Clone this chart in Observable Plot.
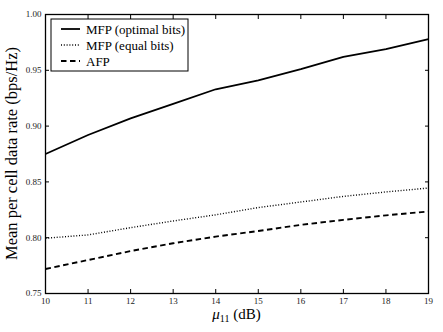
<!DOCTYPE html>
<html>
<head>
<meta charset="utf-8">
<script src="https://cdn.jsdelivr.net/npm/d3@7"></script>
<script src="https://cdn.jsdelivr.net/npm/@observablehq/plot@0.6"></script>
<style>
  html, body { margin: 0; padding: 0; background: #fff; }
  #chart { position: relative; width: 443px; height: 332px; }
</style>
</head>
<body>
<div id="chart"></div>
<script>
const mu = [10, 11, 12, 13, 14, 15, 16, 17, 18, 19];
const mfpOptimal = [0.875, 0.892, 0.907, 0.920, 0.933, 0.941, 0.951, 0.962, 0.969, 0.978];
const mfpEqual   = [0.7995, 0.8025, 0.809, 0.815, 0.8205, 0.827, 0.832, 0.837, 0.841, 0.8445];
const afp        = [0.772, 0.780, 0.788, 0.795, 0.801, 0.806, 0.8115, 0.816, 0.820, 0.8235];
const seriesNames = ["MFP (optimal bits)", "MFP (equal bits)", "AFP"];
const xTicks = [10, 11, 12, 13, 14, 15, 16, 17, 18, 19];
const yTicks = [0.75, 0.80, 0.85, 0.90, 0.95, 1.00];

const styles = [
  {strokeWidth: 1.8, dash: null},
  {strokeWidth: 1.4, dash: "1,1.8"},
  {strokeWidth: 1.9, dash: "5.5,3.5"}
];
const seriesValues = [mfpOptimal, mfpEqual, afp];
const rows = seriesNames.flatMap((name, i) =>
  mu.map((x, j) => ({series: name, x, y: seriesValues[i][j]})));

const font = "'Liberation Serif', 'DejaVu Serif', serif";

const plot = Plot.plot({
  width: 443,
  height: 332,
  marginLeft: 45,
  marginRight: 15,
  marginTop: 14,
  marginBottom: 39,
  style: {fontFamily: font, fontSize: "9px", color: "#222", background: "#fff"},
  x: {domain: [10, 19]},
  y: {domain: [0.75, 1.0]},
  marks: [
    ...seriesNames.map((name, i) => Plot.line(rows.filter(d => d.series === name), {
      x: "x", y: "y", stroke: "#000",
      strokeWidth: styles[i].strokeWidth,
      strokeDasharray: styles[i].dash,
      strokeLinecap: "butt"
    })),
    Plot.axisX(xTicks, {anchor: "bottom", tickSize: -4, tickPadding: 8, tickFormat: d => String(d), label: null, stroke: "#000"}),
    Plot.axisX(xTicks, {anchor: "top", tickSize: -4, tickFormat: () => "", label: null, stroke: "#000"}),
    Plot.axisY(yTicks, {anchor: "left", tickSize: -4, tickPadding: 8, tickFormat: d3.format(".2f"), label: null, stroke: "#000"}),
    Plot.axisY(yTicks, {anchor: "right", tickSize: -4, tickFormat: () => "", label: null, stroke: "#000"}),
    Plot.frame({stroke: "#000", strokeWidth: 1.3})
  ]
});

document.getElementById("chart").appendChild(plot);

const svg = d3.select(plot);
const xs = plot.scale("x"), ys = plot.scale("y");
const [x0, x1] = xs.range, [y0, y1] = ys.range;

// x-axis label: μ11 (dB)
const xl = svg.append("text")
  .attr("x", (x0 + x1) / 2)
  .attr("y", y0 + 26)
  .attr("text-anchor", "middle")
  .attr("font-family", font)
  .attr("font-size", 15)
  .attr("fill", "#000");
xl.append("tspan").attr("font-style", "italic").text("μ");
xl.append("tspan").attr("font-size", 10).attr("dy", 3).text("11");
xl.append("tspan").attr("dy", -3).text(" (dB)");

// y-axis label
svg.append("text")
  .attr("transform", `translate(17,${(y0 + y1) / 2}) rotate(-90)`)
  .attr("text-anchor", "middle")
  .attr("font-family", font)
  .attr("font-size", 16.5)
  .attr("fill", "#000")
  .text("Mean per cell data rate (bps/Hz)");

// legend
const lg = svg.append("g").attr("transform", `translate(${x0 + 6},${y1 + 5})`);
lg.append("rect").attr("width", 137).attr("height", 52)
  .attr("fill", "#fff").attr("stroke", "#000").attr("stroke-width", 1);
seriesNames.forEach((name, i) => {
  const yy = 10 + i * 16;
  lg.append("line").attr("x1", 10).attr("x2", 29).attr("y1", yy).attr("y2", yy)
    .attr("stroke", "#000").attr("stroke-width", styles[i].strokeWidth)
    .attr("stroke-dasharray", styles[i].dash);
  lg.append("text").attr("x", 35).attr("y", yy).attr("dy", "0.35em")
    .attr("text-anchor", "start")
    .attr("font-family", font).attr("font-size", 13).attr("fill", "#000")
    .text(name);
});
</script>
</body>
</html>
